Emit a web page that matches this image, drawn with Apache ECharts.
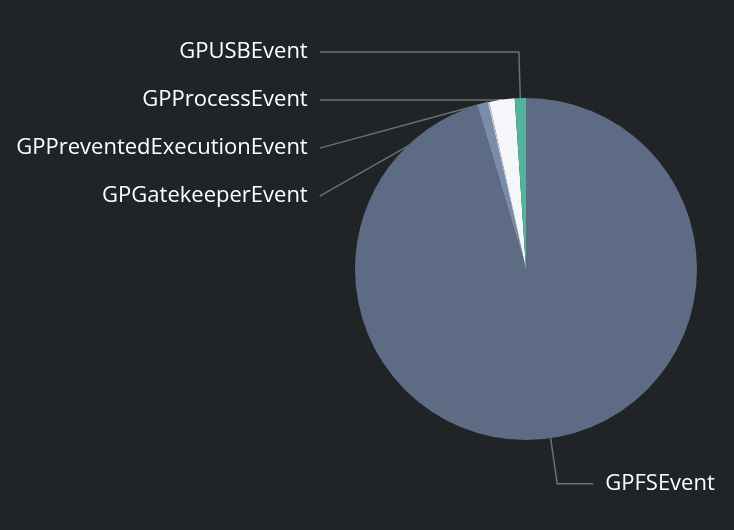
<!DOCTYPE html>
<html><head><meta charset="utf-8">
<script src="https://cdn.jsdelivr.net/npm/echarts@6/dist/echarts.min.js"></script>
<style>html,body{margin:0;padding:0;background:#212427;}#c{width:734px;height:530px;}</style>
</head><body><div id="c"></div>
<script>
const categories = ['GPFSEvent','GPGatekeeperEvent','GPPreventedExecutionEvent','GPProcessEvent','GPUSBEvent'];
const values = [9540, 100, 15, 240, 105];
const colors = ['#5e6b84','#7b8bac','#c9d1de','#f4f6fa','#54b399'];
const lineLen2 = [36, 151, 151, 151, 151];
const turnAngle = [90, 180, 180, 90, 90];

const chart = echarts.init(document.getElementById('c'));
chart.setOption({
  backgroundColor: '#212427',
  animation: false,
  series: [{
    type: 'pie',
    center: [526, 269],
    radius: [0, 171],
    startAngle: 90,
    clockwise: true,
    avoidLabelOverlap: true,
    data: categories.map((n, i) => ({
      name: n, value: values[i],
      itemStyle: { color: colors[i] },
      labelLine: { length2: lineLen2[i], minTurnAngle: turnAngle[i] }
    })),
    label: {
      show: true,
      formatter: '{b}',
      color: '#ffffff',
      fontFamily: 'Open Sans',
      fontSize: 22,
      lineHeight: 46,
      alignTo: 'labelLine',
      edgeDistance: 0,
      bleedMargin: 0,
      distanceToLabelLine: 12
    },
    labelLine: {
      show: true,
      length: 46,
      lineStyle: { color: '#6e7073', width: 1.5 }
    }
  }]
});
</script></body></html>
